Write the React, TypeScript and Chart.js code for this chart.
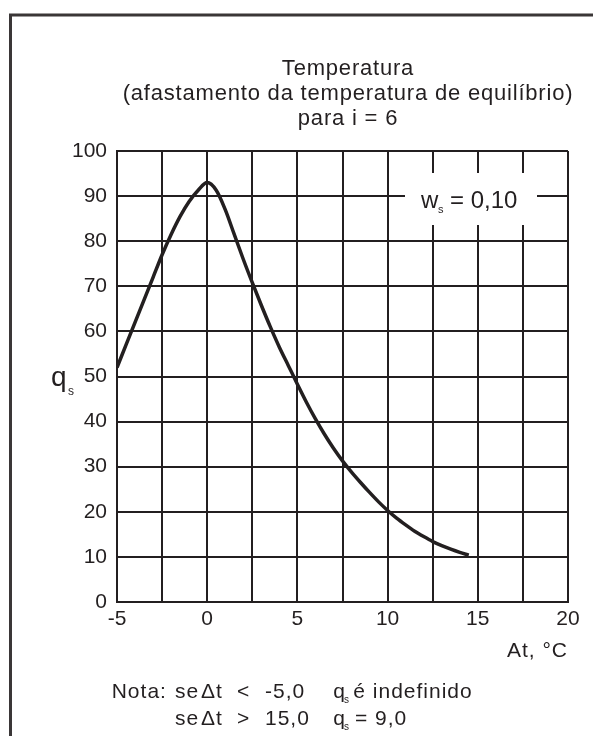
import React, { useEffect, useRef } from "react";
import { Chart, registerables } from "chart.js";

Chart.register(...registerables);

// ---- data ----
const deltaT = [
  -5, -4.5, -4, -3.5, -3, -2.5, -2, -1.5, -1, -0.5, 0, 0.5, 1, 1.5, 2, 2.5, 3,
  3.5, 4, 4.5, 5, 5.5, 6, 6.5, 7, 7.5, 8, 8.5, 9, 9.5, 10, 10.5, 11, 11.5, 12,
  12.5, 13, 13.5, 14, 14.5,
];
const qS = [
  52, 57, 62, 67, 72, 77, 81.5, 85.5, 88.8, 91.3, 93, 91.3, 87, 81.5,
  76, 70.8, 65.8, 61, 56.5, 52.4, 48.3, 44.3, 40.6, 37.2, 34.1, 31.3, 28.8,
  26.5, 24.3, 22.2, 20.3, 18.6, 17.1, 15.7, 14.5, 13.4, 12.5, 11.7, 11, 10.4,
];
const xMin = -5;
const xMax = 20;
const xGridStep = 2.5;
const xLabelStep = 5;
const yMin = 0;
const yMax = 100;
const yStep = 10;

const titleLines = [
  "Temperatura",
  "(afastamento da temperatura de equilíbrio)",
  "para i = 6",
];
const xAxisLabel = "At, °C";
const yAxisLabel = "q";
const yAxisSub = "s";
const wsLabel = "w";
const wsSub = "s";
const wsValue = "= 0,10";
const note1 = ["Nota:", "se", "Δt", "<", "-5,0", "q", "é indefinido"];
const note2 = ["se", "Δt", ">", "15,0", "q", "= 9,0"];

const INK = "#231f20";
const FONT = "'Liberation Sans', Arial, sans-serif";

function txt(
  ctx: CanvasRenderingContext2D,
  s: string,
  x: number,
  y: number,
  size: number,
  align: CanvasTextAlign = "left",
  spacing = 0
) {
  ctx.save();
  ctx.font = `${size}px ${FONT}`;
  (ctx as any).letterSpacing = `${spacing}px`;
  ctx.textAlign = align;
  ctx.textBaseline = "alphabetic";
  ctx.fillStyle = INK;
  ctx.fillText(s, x, y);
  ctx.restore();
}

const decorPlugin = {
  id: "decor",
  beforeDraw(chart: any) {
    const ctx: CanvasRenderingContext2D = chart.ctx;
    ctx.save();
    ctx.fillStyle = "#ffffff";
    ctx.fillRect(0, 0, chart.width, chart.height);
    ctx.strokeStyle = "#3a3637";
    ctx.lineWidth = 3;
    ctx.strokeRect(10.5, 15, 900, 900);
    ctx.restore();
  },
  afterDatasetsDraw(chart: any) {
    const ctx: CanvasRenderingContext2D = chart.ctx;
    // title
    const cx = 348;
    txt(ctx, titleLines[0], cx, 75, 22, "center", 0.8);
    txt(ctx, titleLines[1], cx, 100, 22, "center", 0.8);
    txt(ctx, titleLines[2], cx, 125, 22, "center", 0.8);

    // w_s label box
    ctx.save();
    ctx.fillStyle = "#ffffff";
    ctx.fillRect(405, 173, 132, 52);
    ctx.restore();
    txt(ctx, wsLabel, 421, 208, 24);
    txt(ctx, wsSub, 438, 213, 11);
    txt(ctx, wsValue, 450, 208, 24);

    // y axis label
    txt(ctx, yAxisLabel, 51, 386, 28);
    txt(ctx, yAxisSub, 68, 395, 12);

    // x axis label
    txt(ctx, xAxisLabel, 568, 657, 21, "right", 1);

    // notes
    const col1 = [111.7, 175, 201, 237, 265, 333.3, 353.3];
    note1.forEach((s, i) => txt(ctx, s, col1[i], 698, 21, "left", 1));
    txt(ctx, "s", 344, 703, 10);
    const col2 = [175, 201, 237, 265, 333.3, 355];
    note2.forEach((s, i) => txt(ctx, s, col2[i], 725, 21, "left", 1));
    txt(ctx, "s", 344, 730, 10);
  },
};

export default function App() {
  const ref = useRef<HTMLCanvasElement | null>(null);
  useEffect(() => {
    if (!ref.current) return;
    const chart = new Chart(ref.current, {
      type: "line",
      data: {
        datasets: [
          {
            data: deltaT.map((x, i) => ({ x, y: qS[i] })),
            borderColor: INK,
            borderWidth: 3.5,
            pointRadius: 0,
            fill: false,
            cubicInterpolationMode: "monotone",
          },
        ],
      },
      options: {
        animation: false,
        responsive: false,
        events: [],
        layout: { padding: { left: 0, top: 151, right: 25, bottom: 0 } },
        plugins: { legend: { display: false }, title: { display: false }, tooltip: { enabled: false } },
        scales: {
          x: {
            type: "linear",
            min: xMin,
            max: xMax,
            afterFit: (s: any) => {
              s.height = 134;
            },
            ticks: {
              stepSize: xGridStep,
              autoSkip: false,
              maxRotation: 0,
              padding: 5,
              color: INK,
              font: { family: FONT, size: 21 },
              callback: (v: any) => (Number(v) % xLabelStep === 0 ? String(v) : ""),
            },
            grid: { color: INK, lineWidth: 2, drawTicks: false },
            border: { display: true, color: INK, width: 2 },
          },
          y: {
            type: "linear",
            min: yMin,
            max: yMax,
            afterFit: (s: any) => {
              s.width = 117;
            },
            ticks: {
              stepSize: yStep,
              padding: 10,
              color: INK,
              font: { family: FONT, size: 21 },
            },
            grid: { color: INK, lineWidth: 2, drawTicks: false },
            border: { display: true, color: INK, width: 2 },
          },
        },
      } as any,
      plugins: [decorPlugin],
    });
    return () => chart.destroy();
  }, []);
  return (
    <div style={{ position: "absolute", left: 0, top: 0, width: 593, height: 736 }}>
      <canvas ref={ref} width={593} height={736} style={{ display: "block", width: 593, height: 736 }} />
    </div>
  );
}
